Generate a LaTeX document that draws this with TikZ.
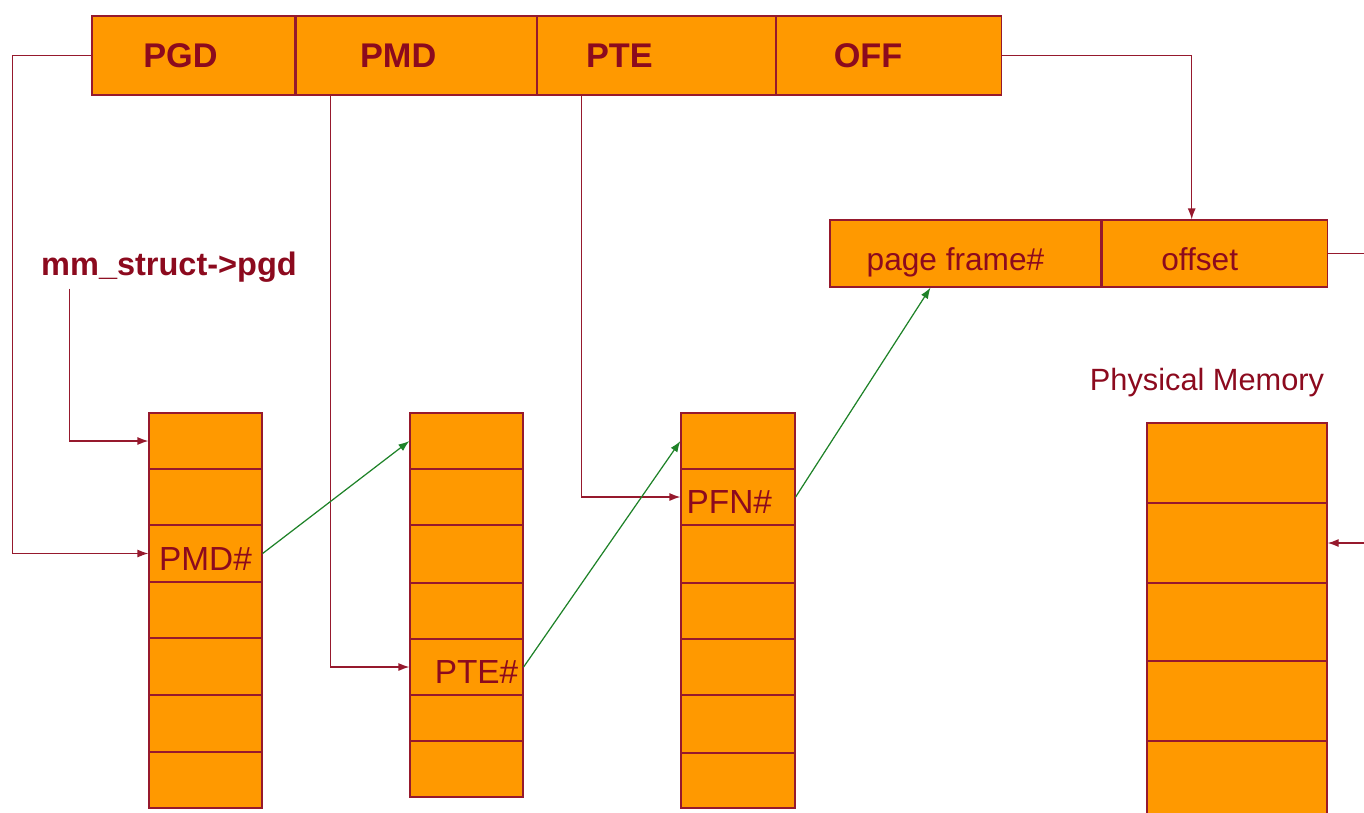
\documentclass[tikz,border=0pt]{standalone}
\usepackage{fontspec}
\setmainfont{Liberation Sans}
\usetikzlibrary{arrows.meta,positioning}
\definecolor{boxorange}{RGB}{255,153,0}
\definecolor{linered}{RGB}{150,25,45}
\definecolor{textred}{RGB}{140,10,30}
\definecolor{walkgreen}{RGB}{30,130,40}
\begin{document}
\begin{tikzpicture}[x=0.02cm, y=-0.02cm, line width=0.7pt,
		cell/.style={draw=linered, fill=boxorange, inner sep=0pt, text=textred, text height=20pt, text depth=1pt, font=\fontsize{19}{22}\selectfont},
		field/.style={cell, minimum height=1.58cm},
		tag/.style={text=textred, font=\bfseries\fontsize{19.5}{22}\selectfont},
		ptr/.style={draw=linered, -{Latex[length=2.2mm,width=1.6mm]}},
		walk/.style={draw=walkgreen, -{Latex[length=2.2mm,width=1.6mm]}}]
		\useasboundingbox (0,0) rectangle (1364,812);
		\clip (0,0) rectangle (1364,812);

		% linear address
		\node[field, minimum width=4.06cm] (pgd) at (193.5,55.5) {};
		\node[field, minimum width=4.8cm, right=0pt of pgd] (pmd) {};
		\node[field, minimum width=4.76cm, right=0pt of pmd] (pte) {};
		\node[field, minimum width=4.5cm, right=0pt of pte] (off) {};
		\node[tag] (pgdtxt) at ([xshift=-0.26cm]pgd.center) {PGD};
		\node[tag] (pmdtxt) at ([xshift=-0.36cm]pmd.center) {PMD};
		\node[tag] (ptetxt) at ([xshift=-0.74cm]pte.center) {PTE};
		\node[tag] (offtxt) at ([xshift=-0.42cm]off.center) {OFF};

		% physical address
		\node[cell, minimum width=5.42cm, minimum height=1.34cm, font=\fontsize{18}{22}\selectfont] (frame) at (965.5,253.5) {page frame\#\hspace*{0.4cm}};
		\node[cell, minimum width=4.5cm, minimum height=1.34cm, font=\fontsize{18}{22}\selectfont, right=0pt of frame] (ofs) {offset\hspace*{0.6cm}};

		\node[tag, font=\bfseries\fontsize{18.5}{20}\selectfont] (mm) at (169,267) {mm\_struct->pgd};
		\node[text=textred, font=\fontsize{17.5}{20}\selectfont] (physlabel) at (1207,383) {Physical Memory};

		% tables
		\foreach \t/\b/\txt [count=\i] in {413/469/{},469/525/{},525/582/{PMD\#},582/638/{},638/695/{},695/752/{},752/808/{}}{
			\pgfmathsetmacro{\h}{(\b-\t)*0.02}
			\node[cell, minimum width=2.26cm, minimum height=\h cm] (pgdtab\i) at (205.5,{(\t+\b)/2}) {\txt};
		}
		\foreach \t/\b/\txt [count=\i] in {413/469/{},469/525/{},525/583/{},583/639/{},639/695/{\hspace*{0.4cm}PTE\#},695/741/{},741/797/{}}{
			\pgfmathsetmacro{\h}{(\b-\t)*0.02}
			\node[cell, minimum width=2.26cm, minimum height=\h cm] (pmdtab\i) at (466.5,{(\t+\b)/2}) {\txt};
		}
		\foreach \t/\b/\txt [count=\i] in {413/469/{},469/525/{PFN\#\hspace*{0.35cm}},525/583/{},583/639/{},639/695/{},695/753/{},753/808/{}}{
			\pgfmathsetmacro{\h}{(\b-\t)*0.02}
			\node[cell, minimum width=2.28cm, minimum height=\h cm] (pfntab\i) at (738,{(\t+\b)/2}) {\txt};
		}
		\foreach \t/\b [count=\i] in {423/503,503/583,583/661,661/741,741/821}{
			\pgfmathsetmacro{\h}{(\b-\t)*0.02}
			\node[cell, minimum width=3.6cm, minimum height=\h cm] (mem\i) at (1237,{(\t+\b)/2}) {};
		}

		% index lines
		\draw[ptr] (pgd.west) -- ++(-79,0) |- (pgdtab3.west);
		\draw[ptr] ([xshift=0.7cm]mm.south west) |- (pgdtab1.west);
		\draw[ptr] ([xshift=0.7cm]pmd.south west) |- (pmdtab5.west);
		\draw[ptr] ([xshift=0.9cm]pte.south west) |- (pfntab2.west);
		\draw[ptr] (off.east) -| ([xshift=-0.46cm]ofs.north);
		\draw[ptr] (ofs.east) -- ++(60,0) |- (mem2.east);

		% table walk
		\draw[walk] (pgdtab3.east) -- (pmdtab1.west);
		\draw[walk] (pmdtab5.east) -- (pfntab1.west);
		\draw[walk] (pfntab2.east) -- ([xshift=-0.7cm]frame.south);
	\end{tikzpicture}
\end{document}
